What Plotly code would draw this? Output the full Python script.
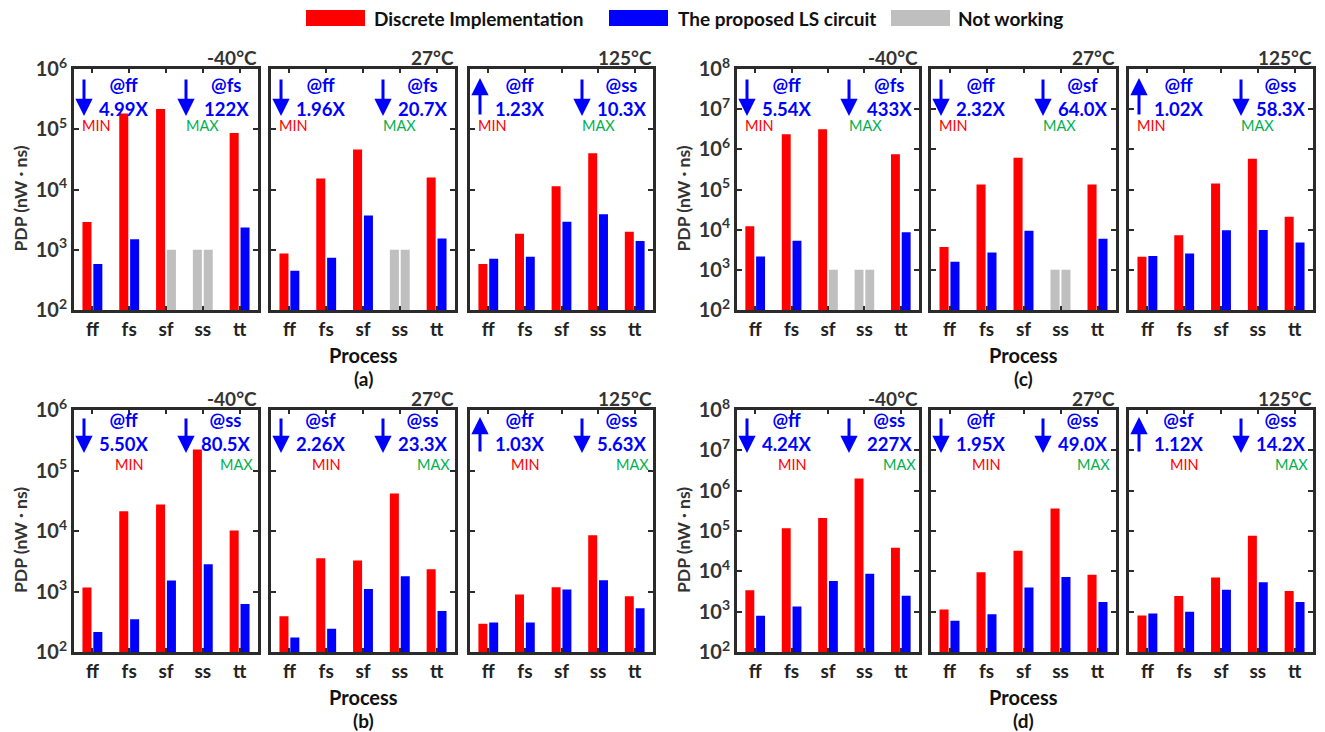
import plotly.graph_objects as go

# ---------------- data ----------------
processes = ["ff", "fs", "sf", "ss", "tt"]
temperatures = ["-40°C", "27°C", "125°C"]
NOT_WORKING_LEVEL = 1000  # placeholder height of "Not working" bars

# (a)
a_m40_disc = [2900, 182000, 217000, None, 87000]
a_m40_prop = [578, 1500, None, None, 2340]
a_27_disc = [869, 15200, 46000, None, 15800]
a_27_prop = [449, 736, 3700, None, 1540]
a_125_disc = [578, 1840, 11350, 40000, 1990]
a_125_prop = [709, 765, 2911, 3880, 1393]
# (b)
b_m40_disc = [1162, 21300, 27500, 223000, 10200]
b_m40_prop = [214, 348, 1517, 2826, 622]
b_27_disc = [389, 3550, 3250, 41800, 2335]
b_27_prop = [173, 243, 1105, 1787, 477]
b_125_disc = [294, 889, 1175, 8530, 834]
b_125_prop = [306, 306, 1077, 1535, 528]
# (c)
c_m40_disc = [12100, 2.37e6, 3.16e6, None, 7.5e5]
c_m40_prop = [2150, 5310, None, None, 8580]
c_27_disc = [3690, 1.33e5, 6.17e5, None, 1.33e5]
c_27_prop = [1585, 2710, 9440, None, 5960]
c_125_disc = [2113, 7220, 1.41e5, 5.84e5, 21100]
c_125_prop = [2196, 2560, 9620, 9810, 4820]
# (d)
d_m40_disc = [3390, 1.17e5, 2.11e5, 1.99e6, 38500]
d_m40_prop = [790, 1352, 5780, 8650, 2495]
d_27_disc = [1137, 9510, 32400, 3.61e5, 8170]
d_27_prop = [593, 869, 3950, 7280, 1733]
d_125_disc = [806, 2445, 7000, 76500, 3260]
d_125_prop = [904, 995, 3517, 5360, 1733]

# annotation texts per panel: (dir1, proc1, factor1, dir2, proc2, factor2)
a_notes = [("down", "ff", "4.99X", "down", "fs", "122X"),
           ("down", "ff", "1.96X", "down", "fs", "20.7X"),
           ("up", "ff", "1.23X", "down", "ss", "10.3X")]
b_notes = [("down", "ff", "5.50X", "down", "ss", "80.5X"),
           ("down", "sf", "2.26X", "down", "ss", "23.3X"),
           ("up", "ff", "1.03X", "down", "ss", "5.63X")]
c_notes = [("down", "ff", "5.54X", "down", "fs", "433X"),
           ("down", "ff", "2.32X", "down", "sf", "64.0X"),
           ("up", "ff", "1.02X", "down", "ss", "58.3X")]
d_notes = [("down", "ff", "4.24X", "down", "ss", "227X"),
           ("down", "ff", "1.95X", "down", "ss", "49.0X"),
           ("up", "sf", "1.12X", "down", "ss", "14.2X")]

legend_names = ["Discrete Implementation", "The proposed LS circuit", "Not working"]

# ---------------- styling ----------------
W, H = 1325, 732
FONT = "Lato"
RED, BLUE, GRAY, GREEN = "#FF0000", "#0000FF", "#BFBFBF", "#00B050"
FRAME = "#2b2b2b"

cols_px = [(74, 258), (271, 455), (470, 653), (737, 919), (931, 1116), (1129, 1313)]
rows_px = [(69, 310), (410, 652)]


def px(x):
    return x / W


def py(y):
    return 1 - y / H


groups = [
    ("(a)", 0, 0, (2, 6), [(a_m40_disc, a_m40_prop), (a_27_disc, a_27_prop), (a_125_disc, a_125_prop)], a_notes),
    ("(c)", 0, 3, (2, 8), [(c_m40_disc, c_m40_prop), (c_27_disc, c_27_prop), (c_125_disc, c_125_prop)], c_notes),
    ("(b)", 1, 0, (2, 6), [(b_m40_disc, b_m40_prop), (b_27_disc, b_27_prop), (b_125_disc, b_125_prop)], b_notes),
    ("(d)", 1, 3, (2, 8), [(d_m40_disc, d_m40_prop), (d_27_disc, d_27_prop), (d_125_disc, d_125_prop)], d_notes),
]

fig = go.Figure()
layout = {}
annotations = []
shapes = []

BAR_W = 0.245
axis_idx = 0
for label, row, col0, (lo, hi), datasets, notes in groups:
    y0p, y1p = rows_px[row]
    for k in range(3):
        axis_idx += 1
        sfx = "" if axis_idx == 1 else str(axis_idx)
        xa, ya = "x" + sfx, "y" + sfx
        x0p, x1p = cols_px[col0 + k]
        disc, prop = datasets[k]
        nw_left = [NOT_WORKING_LEVEL if v is None else None for v in disc]
        nw_right = [NOT_WORKING_LEVEL if v is None else None for v in prop]
        for vals, color, off in [(disc, RED, -0.27), (prop, BLUE, 0.025),
                                 (nw_left, GRAY, -0.27), (nw_right, GRAY, 0.025)]:
            fig.add_trace(go.Bar(x=processes, y=vals, marker=dict(color=color, line=dict(width=0)),
                                 width=BAR_W, offset=off, xaxis=xa, yaxis=ya,
                                 showlegend=False, hoverinfo="skip"))
        layout["xaxis" + sfx] = dict(
            domain=[px(x0p), px(x1p)], anchor=ya, type="category", range=[-0.5, 4.5],
            automargin=False,
            showline=True, linewidth=3, linecolor=FRAME, mirror="allticks",
            ticks="inside", ticklen=4, tickwidth=2, tickcolor=FRAME,
            tickfont=dict(family=FONT, size=19, color="#222", weight="bold"),
            showgrid=False, zeroline=False, fixedrange=True)
        tv = [10 ** e for e in range(lo, hi + 1)]
        layout["yaxis" + sfx] = dict(
            domain=[py(y1p), py(y0p)], anchor=xa, type="log", range=[lo, hi],
            automargin=False,
            tickvals=tv, ticktext=["10<sup>%d</sup>" % e for e in range(lo, hi + 1)],
            showticklabels=(k == 0),
            showline=True, linewidth=3, linecolor=FRAME, mirror="allticks",
            ticks="inside", ticklen=5, tickwidth=2, tickcolor=FRAME,
            tickfont=dict(family=FONT, size=20, color="#333", weight="bold"),
            showgrid=False, zeroline=False, fixedrange=True)

        # temperature label
        annotations.append(dict(x=px(x1p + 1), y=py(y0p - 12), xref="paper", yref="paper",
                                text=temperatures[k], showarrow=False, xanchor="right", yanchor="middle",
                                font=dict(family=FONT, size=19, color="#333", weight="bold")))
        # arrows and factor notes
        d1, p1, f1, d2, p2, f2 = notes[k]
        if row == 0:
            a_top, a_bot, t_mid, mmy, minx, maxx = 9, 47, 28, 57, 22, 128
        else:
            a_top, a_bot, t_mid, mmy, minx, maxx = 7, 43, 22, 54, 55, 162
        for d, ax_x in [(d1, 10), (d2, 112)]:
            if d == "down":
                hy, ty = y0p + a_bot, y0p + a_top
            else:
                hy, ty = y0p + a_top, y0p + a_bot
            annotations.append(dict(x=px(x0p + ax_x), y=py(hy), xref="paper", yref="paper",
                                    ax=0, ay=ty - hy, axref="pixel", ayref="pixel", text="",
                                    showarrow=True, arrowhead=2, arrowsize=1.15, arrowwidth=3,
                                    arrowcolor=BLUE))
        for tx, p, f in [(50, p1, f1), (152, p2, f2)]:
            annotations.append(dict(x=px(x0p + tx), y=py(y0p + t_mid), xref="paper", yref="paper",
                                    text="@" + p + "<br>" + f, showarrow=False,
                                    xanchor="center", yanchor="middle", align="center",
                                    font=dict(family=FONT, size=18.5, color=BLUE, weight="bold")))
        annotations.append(dict(x=px(x0p + minx), y=py(y0p + mmy), xref="paper", yref="paper",
                                text="MIN", showarrow=False, xanchor="center", yanchor="middle",
                                font=dict(family=FONT, size=14.5, color=RED)))
        annotations.append(dict(x=px(x0p + maxx), y=py(y0p + mmy), xref="paper", yref="paper",
                                text="MAX", showarrow=False, xanchor="center", yanchor="middle",
                                font=dict(family=FONT, size=14.5, color=GREEN)))

    # group-level labels
    gx0 = cols_px[col0][0]
    mid_x = (cols_px[col0 + 1][0] + cols_px[col0 + 1][1]) / 2
    annotations.append(dict(x=px(mid_x), y=py(y1p + 45), xref="paper", yref="paper",
                            text="Process", showarrow=False, xanchor="center", yanchor="middle",
                            font=dict(family=FONT, size=20, color="#111", weight="bold")))
    annotations.append(dict(x=px(mid_x), y=py(y1p + 68), xref="paper", yref="paper",
                            text=label, showarrow=False, xanchor="center", yanchor="middle",
                            font=dict(family=FONT, size=19, color="#111", weight="bold")))
    annotations.append(dict(x=px(gx0 - 54), y=py((y0p + y1p) / 2 + 9), xref="paper", yref="paper",
                            text="PDP (nW · ns)", showarrow=False, textangle=-90,
                            xanchor="center", yanchor="middle",
                            font=dict(family=FONT, size=17.5, color="#333", weight="bold")))

# manual legend
legend_items = [(legend_names[0], RED, 306, 372), (legend_names[1], BLUE, 609, 676),
                (legend_names[2], GRAY, 891, 956)]
for name, color, sx, tx in legend_items:
    shapes.append(dict(type="rect", xref="paper", yref="paper", x0=px(sx), x1=px(sx + 59),
                       y0=py(26), y1=py(10), fillcolor=color, line=dict(width=0)))
    annotations.append(dict(x=px(tx), y=py(18), xref="paper", yref="paper", text=name,
                            showarrow=False, xanchor="left", yanchor="middle",
                            font=dict(family=FONT, size=19, color="#111", weight="bold")))

fig.update_layout(**layout)
fig.update_layout(template="none", width=W, height=H,
                  margin=dict(l=0, r=0, t=0, b=0, pad=0, autoexpand=False),
                  paper_bgcolor="white", plot_bgcolor="white", barmode="overlay",
                  showlegend=False, annotations=annotations, shapes=shapes,
                  font=dict(family=FONT))
fig.write_html("out.html", config={"displayModeBar": False},
               post_script="document.body.style.margin='0';document.body.style.overflow='hidden';")
